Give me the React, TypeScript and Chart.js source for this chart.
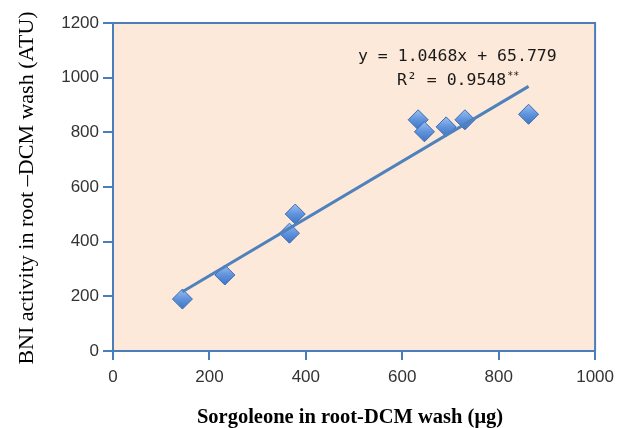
import React, { useEffect, useRef } from "react";
import { Chart, registerables } from "chart.js";

Chart.register(...registerables);

const sorgoleone = [144, 232, 366, 378, 633, 646, 691, 730, 862];
const bniActivity = [190, 278, 431, 501, 846, 802, 820, 846, 866];
const xTicksMax = 1000;
const yTicksMax = 1200;
const slope = 1.0468;
const intercept = 65.779;
const equationText = "y = 1.0468x + 65.779";
const r2Text = "R\u00b2 = 0.9548";
const r2Mark = "**";
const xTitle = "Sorgoleone in root-DCM wash (\u03bcg)";
const yTitle = "BNI activity in root \u2013DCM wash (ATU)";

const BLUE = "#4a7ebb";
const BG = "#fde9d9";

export default function App() {
  const ref = useRef<HTMLCanvasElement | null>(null);
  useEffect(() => {
    document.body.style.margin = "0";
    const canvas = ref.current!;
    const minX = Math.min(...sorgoleone);
    const maxX = Math.max(...sorgoleone);
    const trend = [
      { x: minX, y: slope * minX + intercept },
      { x: maxX, y: slope * maxX + intercept },
    ];
    const points = sorgoleone.map((x, i) => ({ x, y: bniActivity[i] }));

    const deco = {
      id: "deco",
      beforeDraw(chart: any) {
        const { ctx, chartArea: a } = chart;
        ctx.save();
        ctx.fillStyle = BG;
        ctx.fillRect(a.left, a.top, a.right - a.left, a.bottom - a.top);
        ctx.restore();
      },
      beforeDatasetsDraw(chart: any) {
        const { ctx, chartArea: a } = chart;
        ctx.save();
        ctx.strokeStyle = BLUE;
        ctx.lineWidth = 2;
        ctx.beginPath();
        ctx.moveTo(a.left, a.top);
        ctx.lineTo(a.right, a.top);
        ctx.lineTo(a.right, a.bottom);
        ctx.stroke();
        ctx.restore();
      },
      afterDraw(chart: any) {
        const { ctx } = chart;
        ctx.save();
        ctx.fillStyle = "#1a1a1a";
        ctx.textBaseline = "middle";
        ctx.textAlign = "left";
        ctx.font = "16.5px 'DejaVu Sans Mono'";
        ctx.fillText(equationText, 358, 57);
        ctx.fillText(r2Text, 397, 81);
        const w = ctx.measureText(r2Text).width;
        ctx.font = "10px 'DejaVu Sans Mono'";
        ctx.fillText(r2Mark, 397 + w + 1, 76);
        ctx.fillStyle = "#000";
        ctx.textBaseline = "alphabetic";
        ctx.font = "bold 20.5px 'Liberation Serif'";
        ctx.textAlign = "center";
        ctx.fillText(xTitle, 350, 423);
        ctx.translate(33, 188);
        ctx.rotate(-Math.PI / 2);
        ctx.font = "22px 'Liberation Serif'";
        ctx.fillText(yTitle, 0, 0);
        ctx.restore();
      },
    };

    const plain = (v: any) => String(v);

    const chart = new Chart(canvas, {
      type: "scatter",
      data: {
        datasets: [
          {
            type: "line",
            data: trend,
            borderColor: "#4f81bd",
            borderWidth: 3,
            pointRadius: 0,
            fill: false,
          } as any,
          {
            type: "scatter",
            data: points,
            pointStyle: "rectRot",
            radius: 10,
            borderColor: "#3a6cb5",
            borderWidth: 1,
            backgroundColor: (c: any) => {
              const sy = c.chart.scales?.y;
              if (!sy || !c.parsed) return "#5b8fd8";
              const py = sy.getPixelForValue(c.parsed.y);
              if (!isFinite(py)) return "#5b8fd8";
              const g = c.chart.ctx.createLinearGradient(0, py - 10, 0, py + 10);
              g.addColorStop(0, "#9cbff0");
              g.addColorStop(0.5, "#5f93dc");
              g.addColorStop(1, "#4274c2");
              return g;
            },
          } as any,
        ],
      },
      options: {
        animation: false,
        responsive: false,
        layout: { padding: { top: 23, right: 23, left: 0, bottom: 0 } },
        plugins: {
          legend: { display: false },
          tooltip: { enabled: false },
        },
        scales: {
          x: {
            type: "linear",
            min: 0,
            max: xTicksMax,
            afterFit: (s: any) => {
              s.height = 77;
            },
            ticks: {
              stepSize: 200,
              color: "#333",
              padding: 7,
              callback: plain,
              font: { family: "'Liberation Sans'", size: 17 },
            },
            grid: {
              drawOnChartArea: false,
              drawTicks: true,
              tickLength: 9,
              color: BLUE,
              lineWidth: 2,
            },
            border: { color: BLUE, width: 2 },
          },
          y: {
            type: "linear",
            min: 0,
            max: yTicksMax,
            afterFit: (s: any) => {
              s.width = 113;
            },
            ticks: {
              stepSize: 200,
              color: "#333",
              padding: 4,
              callback: plain,
              font: { family: "'Liberation Sans'", size: 17 },
            },
            grid: {
              drawOnChartArea: false,
              drawTicks: true,
              tickLength: 10,
              color: BLUE,
              lineWidth: 2,
            },
            border: { color: BLUE, width: 2 },
          },
        },
      },
      plugins: [deco],
    });
    return () => chart.destroy();
  }, []);
  return (
    <div style={{ position: "absolute", left: 0, top: 0, width: 621, height: 428, background: "#fff" }}>
      <canvas ref={ref} width={621} height={428} />
    </div>
  );
}
